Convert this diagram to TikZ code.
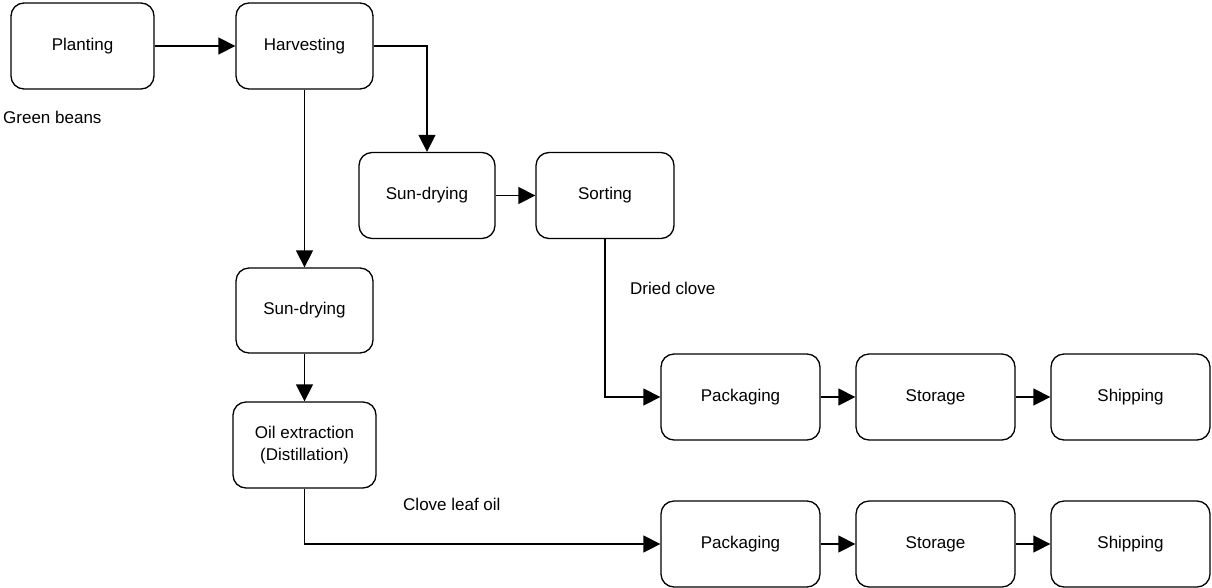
\documentclass[tikz,border=0pt]{standalone}
\usepackage{fontspec}
\setmainfont{Liberation Sans}
\usetikzlibrary{arrows.meta}
\begin{document}
\begin{tikzpicture}[x=1pt,y=-1pt,
  font=\fontsize{17}{22}\selectfont,
  stepbox/.style={draw=black,line width=1.3pt,rounded corners=13pt,
    minimum height=86pt,align=center,inner sep=0pt},
  flow/.style={draw=black,line width=1.3pt,
    -{Triangle[length=17pt,width=17pt]}},
  tag/.style={anchor=west,inner sep=0pt}]
\useasboundingbox (0,0) rectangle (1212,587);

% process steps
\node[stepbox,minimum width=143pt] (plant) at (82.5,46) {Planting};
\node[stepbox,minimum width=137pt] (harv)  at (304.5,46) {Harvesting};
\node[stepbox,minimum width=136pt] (sd1)   at (427,195.5) {Sun-drying};
\node[stepbox,minimum width=138pt] (sort)  at (605,195.5) {Sorting};
\node[stepbox,minimum width=137pt,minimum height=85pt] (sd2) at (304.5,310.5) {Sun-drying};
\node[stepbox,minimum width=143pt] (oil)   at (304.5,445) {Oil extraction\\(Distillation)};

\node[stepbox,minimum width=159pt] (pack1) at (740.5,397) {Packaging};
\node[stepbox,minimum width=159pt] (stor1) at (935.5,397) {Storage};
\node[stepbox,minimum width=159pt] (ship1) at (1130.5,397) {Shipping};

\node[stepbox,minimum width=159pt] (pack2) at (740.5,544) {Packaging};
\node[stepbox,minimum width=159pt] (stor2) at (935.5,544) {Storage};
\node[stepbox,minimum width=159pt] (ship2) at (1130.5,544) {Shipping};

% labels
\node[tag] (gb) at (3,117) {Green beans};
\node[tag] (dc) at (630,288) {Dried clove};
\node[tag] (clo) at (403,504) {Clove leaf oil};

% connectors
\draw[flow] (plant) -- (harv);
\draw[flow] (harv.east) -| (sd1.north);
\draw[flow] (harv.south) -- (sd2.north);
\draw[flow] (sd1) -- (sort);
\draw[flow] (sd2) -- (oil);
\draw[flow] (sort.south) |- (pack1.west);
\draw[flow] (oil.south) |- (pack2.west);
\draw[flow] (pack1) -- (stor1);
\draw[flow] (stor1) -- (ship1);
\draw[flow] (pack2) -- (stor2);
\draw[flow] (stor2) -- (ship2);
\end{tikzpicture}
\end{document}
